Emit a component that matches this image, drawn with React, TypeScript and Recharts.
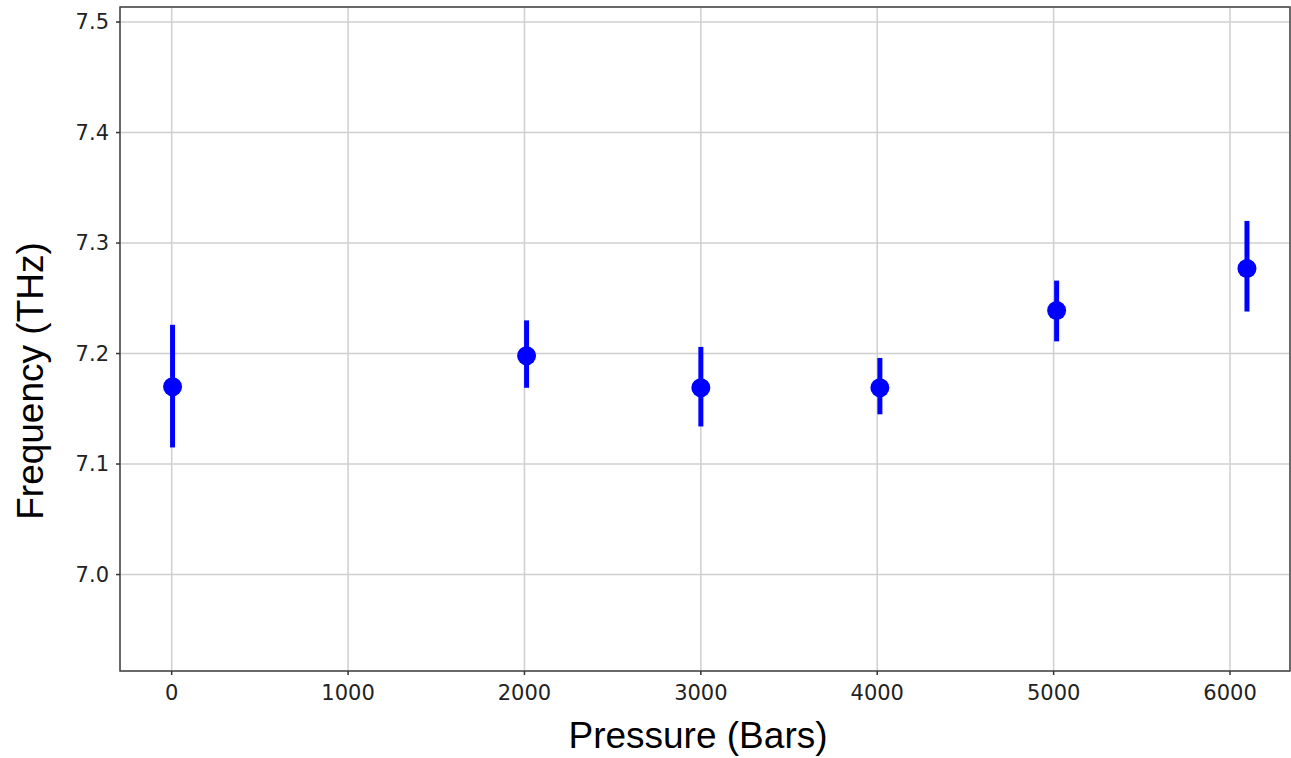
import React from "react";
import {
  ScatterChart,
  Scatter,
  XAxis,
  YAxis,
  CartesianGrid,
  ErrorBar,
  ReferenceArea,
  Label,
} from "recharts";

const pressures = [5, 2012, 3000, 4015, 5017, 6096];
const frequencies = [7.17, 7.198, 7.169, 7.169, 7.239, 7.277];
const errLow = [0.055, 0.029, 0.035, 0.024, 0.028, 0.039];
const errHigh = [0.056, 0.032, 0.037, 0.027, 0.027, 0.043];
const xTicks = [0, 1000, 2000, 3000, 4000, 5000, 6000];
const yTicks = [7.0, 7.1, 7.2, 7.3, 7.4, 7.5];

const X_DOMAIN: [number, number] = [-293, 6340];
const Y_DOMAIN: [number, number] = [6.9127, 7.5136];

const data = pressures.map((p, i) => ({
  x: p,
  y: frequencies[i],
  err: [errLow[i], errHigh[i]],
}));

const tickStyle = { fontFamily: "DejaVu Sans", fontSize: 21, fill: "#222" };

const Dot = (props: any) => (
  <circle cx={props.cx} cy={props.cy} r={9.5} fill="#0000ff" />
);

export default function App() {
  return (
    <div style={{ position: "absolute", left: 0, top: 0, background: "#fff" }}>
      <ScatterChart
        width={1291}
        height={758}
        margin={{ top: 7, right: 1, bottom: 0, left: 0 }}
      >
        <CartesianGrid stroke="#cfcfcf" strokeWidth={1.5} />
        <XAxis
          type="number"
          dataKey="x"
          domain={X_DOMAIN}
          ticks={xTicks}
          allowDataOverflow
          height={87}
          tick={tickStyle}
          tickSize={4}
          tickMargin={10}
          axisLine={false}
          tickLine={{ stroke: "#333", strokeWidth: 1.5 }}
        >
          <Label
            content={() => (
              <text
                x={698}
                y={748}
                textAnchor="middle"
                fontFamily="Liberation Sans, Arial"
                fontSize={37}
                fill="#000"
              >
                Pressure (Bars)
              </text>
            )}
          />
        </XAxis>
        <YAxis
          type="number"
          dataKey="y"
          domain={Y_DOMAIN}
          ticks={yTicks}
          allowDataOverflow
          width={120}
          tick={tickStyle}
          tickFormatter={(v: number) => v.toFixed(1)}
          tickSize={4}
          tickMargin={7}
          axisLine={false}
          tickLine={{ stroke: "#333", strokeWidth: 1.5 }}
        >
          <Label
            content={() => (
              <text
                x={43}
                y={381}
                transform="rotate(-90, 43, 381)"
                textAnchor="middle"
                fontFamily="Liberation Sans, Arial"
                fontSize={37}
                fill="#000"
              >
                Frequency (THz)
              </text>
            )}
          />
        </YAxis>
        <ReferenceArea
          x1={X_DOMAIN[0]}
          x2={X_DOMAIN[1]}
          y1={Y_DOMAIN[0]}
          y2={Y_DOMAIN[1]}
          fill="none"
          stroke="#444"
          strokeWidth={1.5}
          ifOverflow="visible"
        />
        <Scatter data={data} shape={Dot} isAnimationActive={false}>
          <ErrorBar
            dataKey="err"
            direction="y"
            width={0}
            stroke="#0000ff"
            strokeWidth={5}
            isAnimationActive={false}
          />
        </Scatter>
      </ScatterChart>
    </div>
  );
}
